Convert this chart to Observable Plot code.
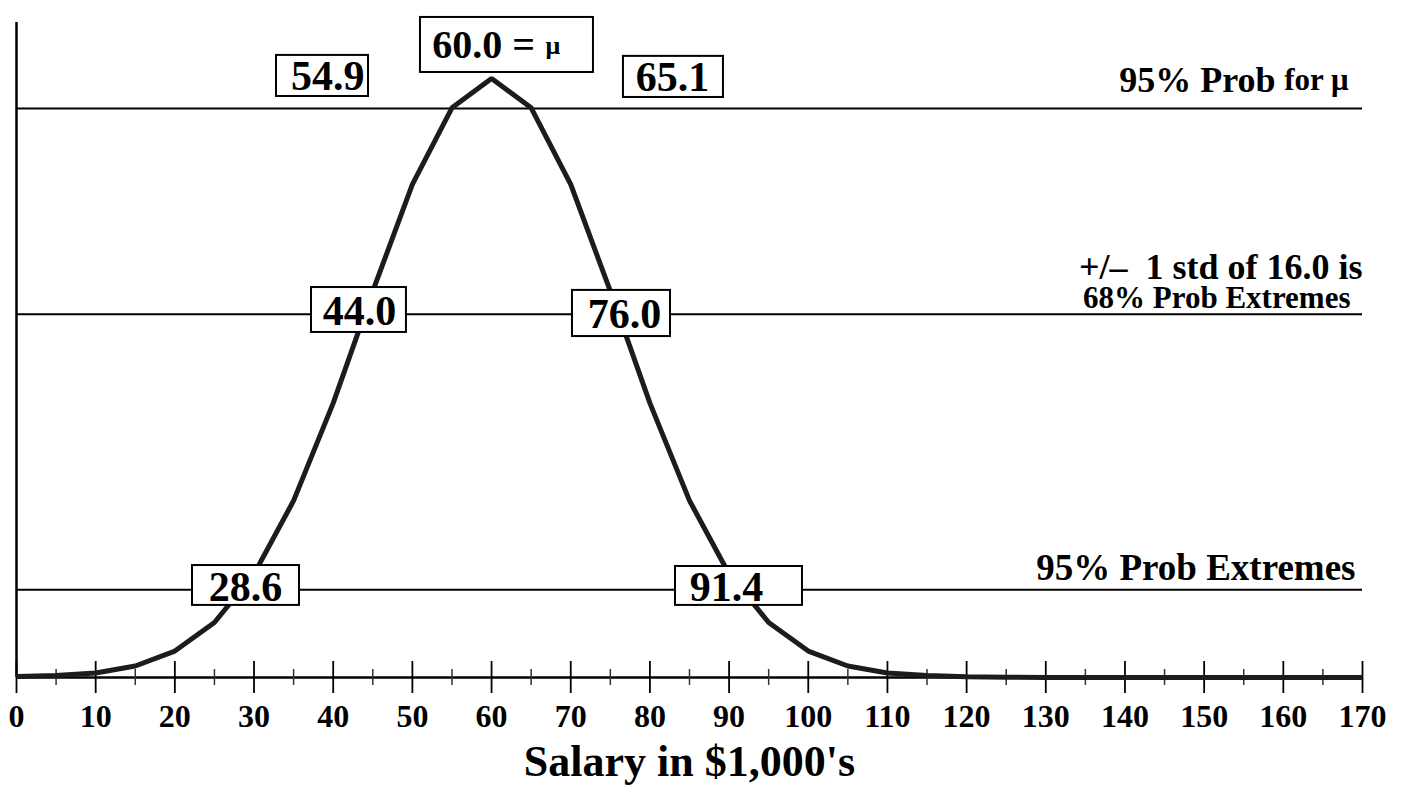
<!DOCTYPE html>
<html><head><meta charset="utf-8">
<script src="https://cdn.jsdelivr.net/npm/d3@7"></script>
<script src="https://cdn.jsdelivr.net/npm/@observablehq/plot@0.6"></script>
<style>
html,body{margin:0;padding:0;background:#fff;overflow:hidden}
#chart svg{display:block}
</style>
</head><body><div id="chart"></div>
<script>
// Curve: salary (in $1,000's) and density height
const salary = [0,5,10,15,20,25,30,35,40,45,50,55,60,65,70,75,80,85,90,95,100,105,110,115,120,125,130,135,140,145,150,155,160,165,170];
const density = [0.00004,0.00008,0.00019,0.00048,0.00110,0.00229,0.00431,0.00736,0.01142,0.01608,0.02052,0.02371,0.02493,0.02371,0.02052,0.01608,0.01142,0.00736,0.00431,0.00229,0.00110,0.00048,0.00019,0.00008,0.00003,0.00001,0,0,0,0,0,0,0,0,0];

// Axis ticks
const majorTicks = [0,10,20,30,40,50,60,70,80,90,100,110,120,130,140,150,160,170];
const tickLabels = ["0","10","20","30","40","50","60","70","80","90","100","110","120","130","140","150","160","170"];
const minorTicks = [5,15,25,35,45,55,65,75,85,95,105,115,125,135,145,155,165];

// Probability levels (horizontal lines)
const levelNames = ["95% Prob for μ", "+/–\u00a0\u00a01 std of 16.0 is\n68% Prob Extremes", "95% Prob Extremes"];
const levelValues = [0.02368, 0.01512, 0.00365];

// Boxed value labels
const boxTexts = ["54.9", "65.1", "44.0", "76.0", "28.6", "91.4"];
const boxTextX = [39.3, 82.85, 43.32, 76.79, 28.92, 89.67];
const boxTextY = [0.02501, 0.02497, 0.01523, 0.01511, 0.00375, 0.00375];
const boxX1 = [32.84, 76.66, 37.26, 70.22, 22.23, 83.23];
const boxX2 = [44.46, 89.29, 49.25, 82.60, 35.74, 99.27];
const boxY1 = [0.02418, 0.02414, 0.01436, 0.01419, 0.00300, 0.00300];
const boxY2 = [0.02589, 0.02585, 0.01623, 0.01611, 0.00466, 0.00462];

// Mean label
const meanValue = "60.0 =";
const meanSymbol = "μ";
const meanBox = {x1: 51.02, x2: 72.87, y1: 0.02518, y2: 0.02747};

const xTitle = "Salary in $1,000's";

const curve = salary.map((s, i) => ({salary: s, density: density[i]}));
const boxes = boxTexts.map((t, i) => ({t, x: boxTextX[i], y: boxTextY[i], x1: boxX1[i], x2: boxX2[i], y1: boxY1[i], y2: boxY2[i]}));

const FONT = "'Liberation Serif', 'Times New Roman', serif";

const chart = Plot.plot({
  width: 1405,
  height: 795,
  marginLeft: 16,
  marginRight: 43,
  marginTop: 22,
  marginBottom: 118,
  x: {domain: [0, 170], axis: null},
  y: {domain: [0, 0.02726], axis: null},
  style: {fontFamily: FONT, overflow: "visible", background: "#fff"},
  marks: [
    // level lines
    Plot.ruleY(levelValues, {stroke: "#000", strokeWidth: 2}),
    // y axis line
    Plot.ruleX([0], {stroke: "#000", strokeWidth: 2.5}),
    // baseline
    Plot.ruleY([0], {stroke: "#000", strokeWidth: 2.5}),
    // ticks
    Plot.ruleX(majorTicks, {x: d => d, y1: 0, y2: 0, insetTop: 16, insetBottom: 16, stroke: "#000", strokeWidth: 1.8}),
    Plot.ruleX(minorTicks, {x: d => d, y1: 0, y2: 0, insetTop: 8, insetBottom: 8, stroke: "#333", strokeWidth: 1.5}),
    // curve
    Plot.line(curve, {x: "salary", y: "density", stroke: "#1c1c1c", strokeWidth: 5, strokeLinejoin: "miter", strokeLinecap: "butt"}),
    // boxes
    Plot.rect(boxes, {x1: "x1", x2: "x2", y1: "y1", y2: "y2", fill: "#fff", stroke: "#000", strokeWidth: 2}),
    Plot.rect([meanBox], {x1: "x1", x2: "x2", y1: "y1", y2: "y2", fill: "#fff", stroke: "#000", strokeWidth: 2}),
    Plot.text(boxes, {x: "x", y: "y", text: "t", fontSize: 42, fontWeight: "bold", fill: "#000"}),
    Plot.text([meanValue], {x: () => 52.5, y: () => 0.0263, text: d => d, textAnchor: "start", fontSize: 40, fontWeight: "bold", fill: "#000"}),
    Plot.text([meanSymbol], {x: () => 66.8, y: () => 0.0263, text: d => d, textAnchor: "start", fontSize: 26, fontWeight: "bold", fill: "#000"}),
    // right side annotations
    Plot.text(["for μ"], {x: () => 170, y: () => levelValues[0], dx: -14, dy: -28, text: d => d, textAnchor: "end", fontSize: 31, fontWeight: "bold"}),
    Plot.text(["95% Prob"], {x: () => 170, y: () => levelValues[0], dx: -87, dy: -28, text: d => d, textAnchor: "end", fontSize: 36, fontWeight: "bold"}),
    Plot.text([levelNames[1]], {x: () => 170, y: () => levelValues[1], dx: 0, dy: -59, text: d => d, textAnchor: "end", lineAnchor: "top", lineHeight: 0.93, fontSize: 36, fontWeight: "bold", className: "stdnote"}),
    Plot.text([levelNames[2]], {x: () => 170, y: () => levelValues[2], dx: -7, dy: -22, text: d => d, textAnchor: "end", fontSize: 37, fontWeight: "bold"}),
    // tick labels
    Plot.text(majorTicks, {x: d => d, text: (d, i) => tickLabels[i], frameAnchor: "bottom", dy: 49, fontSize: 32, fontWeight: "bold", fill: "#000"}),
    // x title
    Plot.text([xTitle], {text: d => d, frameAnchor: "bottom", dy: 98, fontSize: 44, fontWeight: "bold", fill: "#000"})
  ]
});
document.getElementById("chart").appendChild(chart);
// second line of the std note is set in a smaller size, and pulled in slightly
d3.select(chart).selectAll(".stdnote text tspan").each(function(d, i) {
  if (i === 1) d3.select(this).attr("font-size", 31).attr("dx", -12);
});
</script>
</body></html>
